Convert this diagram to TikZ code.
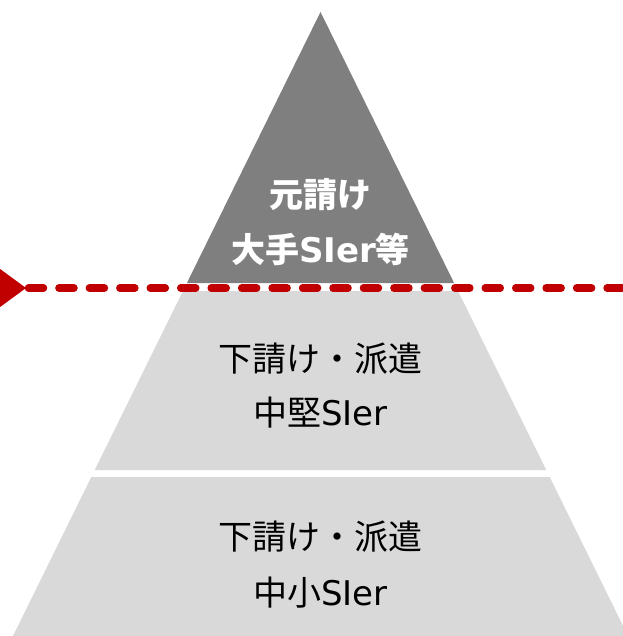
\documentclass[tikz,border=0pt]{standalone}
\usepackage{fontspec}
\usetikzlibrary{arrows.meta,calc,positioning}
\setmainfont{Noto Sans CJK JP}
\newfontfamily\latin{DejaVu Sans}
\definecolor{topgray}{RGB}{127,127,127}
\definecolor{lowgray}{RGB}{217,217,217}
\definecolor{marker}{RGB}{192,0,0}
\def\big(#1){{\fontsize{34}{40}\selectfont #1}}
\def\bigb(#1){{\fontsize{34}{40}\selectfont\bfseries #1}}
\def\si{{\latin SIer}}

\begin{document}
\begin{tikzpicture}[x=1pt,y=-1pt]
\useasboundingbox (0,0) rectangle (622,636);
% layers of the pyramid
\fill[topgray] (320.5,12) -- (454.1,283) -- (186.9,283) -- cycle;
\fill[lowgray] (183,291) -- (458,291) -- (546.3,470) -- (94.7,470) -- cycle;
\fill[lowgray] (91.3,477) -- (549.7,477) -- (630,640) -- (11,640) -- cycle;
% labels
\node (top1) at (320.5,195) {\bigb(\textcolor{white}{元請け})};
\node (top2) at (320.5,249) {\bigb(\textcolor{white}{大手\si 等})};
\node (mid1) at (320.5,359) {\big(下請け・派遣)};
\node (mid2) at (320.5,413) {\big(中堅\si)};
\node (low1) at (320.5,537) {\big(下請け・派遣)};
\node (low2) at (320.5,593) {\big(中小\si)};
% red marker line
\coordinate (tip) at (26,288);
\coordinate (lineL) at (28.5,288);
\coordinate (lineR) at (626,288);
\fill[marker] (-4,266) -- (tip) -- (-4,310) -- cycle;
\draw[marker, line width=7.5pt, line cap=round, dash pattern=on 15pt off 15.45pt] (lineL)--(lineR);
\end{tikzpicture}
\end{document}
